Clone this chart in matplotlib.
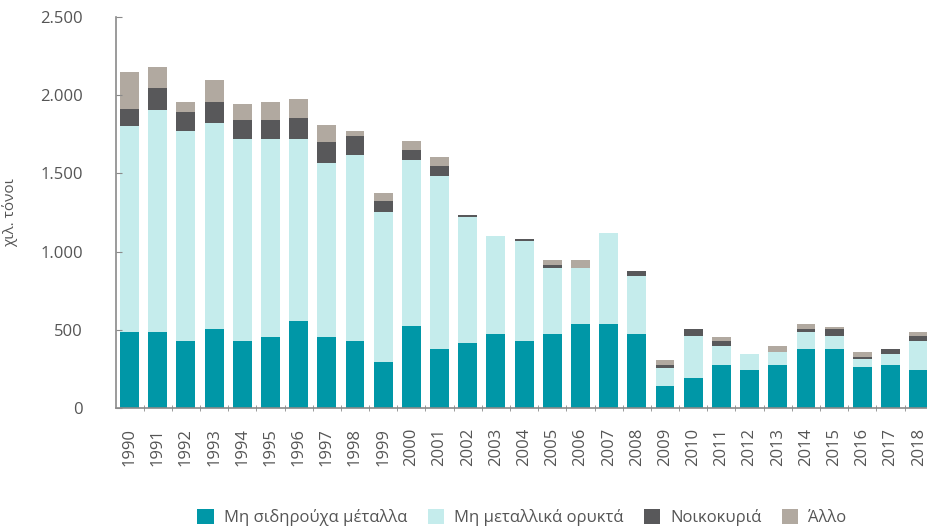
import matplotlib.pyplot as plt
import numpy as np
from matplotlib.ticker import FuncFormatter, MultipleLocator, FixedLocator

plt.rcParams['font.family'] = ['Open Sans', 'DejaVu Sans']

# Waste by category, thousand tonnes
years = [str(y) for y in range(1990, 2019)]
non_ferrous = [487, 487, 433, 504, 433, 453, 555, 453, 433, 299,
               523, 382, 420, 472, 433, 472, 536, 536, 472, 144,
               196, 279, 247, 279, 382, 382, 266, 279, 247]
minerals = [1314, 1417, 1336, 1316, 1284, 1264, 1162, 1110, 1182, 956,
            1060, 1098, 803, 629, 636, 424, 360, 584, 372, 116,
            269, 122, 103, 84, 103, 83, 52, 71, 186]
households = [109, 141, 122, 135, 122, 122, 135, 135, 122, 71,
              64, 64, 13, 0, 13, 19, 0, 0, 32, 19,
              39, 32, 0, 0, 19, 39, 13, 32, 32]
other = [237, 135, 64, 141, 103, 116, 122, 109, 32, 51,
         58, 58, 0, 0, 0, 32, 51, 0, 0, 32,
         0, 20, 0, 38, 32, 13, 32, 0, 20]

series = [
    ('Μη σιδηρούχα μέταλλα', non_ferrous, '#0097a7'),
    ('Μη μεταλλικά ορυκτά', minerals, '#c5ecec'),
    ('Νοικοκυριά', households, '#58585a'),
    ('Άλλο', other, '#b1a9a0'),
]

text_color = '#555555'
spine_color = '#8a8a8a'

fig = plt.figure(figsize=(9.28, 5.29), dpi=100)
ax = fig.add_axes([0.125, 0.2278, 0.875, 0.741])

x = np.arange(len(years))
bottom = np.zeros(len(years))
for label, values, color in series:
    values = np.array(values, dtype=float)
    ax.bar(x, values, width=0.67, bottom=bottom, color=color, label=label, linewidth=0)
    bottom += values

ax.set_xlim(-0.48, 28.33)
ax.set_ylim(0, 2500)

for side in ['top', 'right']:
    ax.spines[side].set_visible(False)
for side in ['left', 'bottom']:
    ax.spines[side].set_color(spine_color)
    ax.spines[side].set_linewidth(1.2)

ax.yaxis.set_major_locator(MultipleLocator(500))
ax.yaxis.set_major_formatter(FuncFormatter(lambda v, p: f'{int(v):,}'.replace(',', '.')))
ax.tick_params(axis='y', direction='in', length=4, color=spine_color, pad=24,
               labelsize=12, labelcolor=text_color)

ax.set_xticks(x)
ax.set_xticklabels(years, rotation=90)
ax.tick_params(axis='x', which='major', length=0, pad=14, labelsize=12, labelcolor=text_color)
ax.xaxis.set_minor_locator(FixedLocator(x[:-1] + 0.5))
ax.tick_params(axis='x', which='minor', direction='inout', length=5, color=spine_color)

ax.set_ylabel('χιλ. τόνοι', fontsize=11, color=text_color)
ax.yaxis.set_label_coords(-0.121, 0.5)

handles, labels = ax.get_legend_handles_labels()
fig.legend(handles, labels, loc='center', bbox_to_anchor=(0.5625, 0.021), ncol=4,
           frameon=False, fontsize=12, handlelength=1.0, handleheight=1.0,
           columnspacing=1.2, handletextpad=0.6, labelcolor=text_color,
           borderaxespad=0, borderpad=0)

fig.savefig('out.png', dpi=100)
